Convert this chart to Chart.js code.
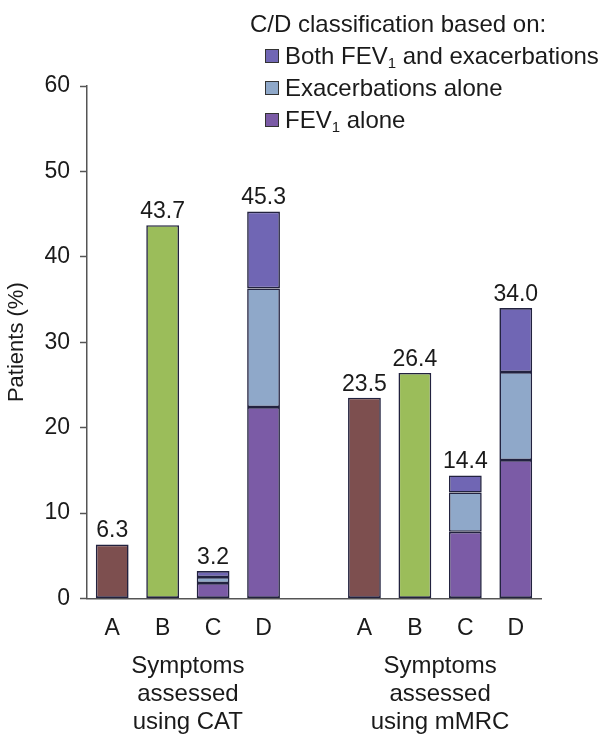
<!DOCTYPE html>
<html>

<head>
    <meta charset="UTF-8">
    <title>GOLD groups by CAT and mMRC</title>
    <script src="https://cdn.jsdelivr.net/npm/chart.js@4.4.1/dist/chart.umd.min.js"></script>
    <style>
        body {
            margin: 0;
            background: #fff;
            font-family: "Liberation Sans", Arial, sans-serif;
            color: #1a1a1a;
        }

        .wrap {
            position: relative;
            width: 603px;
            height: 735px;
        }

        #legend {
            position: absolute;
            left: 250px;
            top: 8px;
            font-size: 24px;
            line-height: 32px;
            white-space: nowrap;
        }

        #legend div {
            height: 32px;
        }

        #legend .item {
            margin-left: 15px;
        }

        #legend .box {
            display: inline-block;
            width: 12px;
            height: 12px;
            border: 1.5px solid #333;
            margin-right: 6px;
            vertical-align: 1px;
        }

        #legend sub {
            font-size: 15px;
            line-height: 0;
            vertical-align: -4px;
        }
    </style>
</head>

<body>
    <div class="wrap">
        <canvas id="chart" width="603" height="735"></canvas>
        <div id="legend"></div>
    </div>

    <script>
        // data
        const categories = ["A", "B", "C", "D", "", "A", "B", "C", "D"];
        const groupLabels = [["Symptoms", "assessed", "using CAT"], ["Symptoms", "assessed", "using mMRC"]];
        const groupCenters = [1.5, 6.5];

        const gradeA = [6.3, null, null, null, null, 23.5, null, null, null];
        const gradeB = [null, 43.7, null, null, null, null, 26.4, null, null];
        const fev1Alone = [null, null, 1.8, 22.4, null, null, null, 7.8, 16.2];
        const exacAlone = [null, null, 0.7, 13.9, null, null, null, 4.6, 10.3];
        const bothFevExac = [null, null, 0.7, 9.0, null, null, null, 2.0, 7.5];
        const totalLabels = ["6.3", "43.7", "3.2", "45.3", "", "23.5", "26.4", "14.4", "34.0"];

        const legendTitle = "C/D classification based on:";
        const legendItems = [
            { html: "Both FEV<sub>1</sub> and exacerbations", color: "#7066b4" },
            { html: "Exacerbations alone", color: "#8fa8c9" },
            { html: "FEV<sub>1</sub> alone", color: "#7b5ba6" }
        ];

        const edge = "#22223f";
        const FONT = "'Liberation Sans', Arial, sans-serif";

        function ds(label, data, color) {
            return {
                label: label,
                data: data,
                backgroundColor: color,
                borderColor: edge,
                borderWidth: 1.6,
                borderSkipped: false,
                stack: "s"
            };
        }

        // total value above every bar + group captions under the axis
        const barLabels = {
            id: "barLabels",
            afterDatasetsDraw(chart) {
                const ctx = chart.ctx;
                const x = chart.scales.x;
                const y = chart.scales.y;
                ctx.save();
                ctx.fillStyle = "#1a1a1a";
                ctx.font = "23px " + FONT;
                ctx.textAlign = "center";
                ctx.textBaseline = "bottom";
                for (let i = 0; i < categories.length; i++) {
                    if (!totalLabels[i]) continue;
                    let v = parseFloat(totalLabels[i]);
                    ctx.fillText(totalLabels[i], x.getPixelForValue(i), y.getPixelForValue(v) - 2);
                }
                ctx.font = "24px " + FONT;
                ctx.textBaseline = "middle";
                for (let g = 0; g < groupLabels.length; g++) {
                    let cx = (x.getPixelForValue(Math.floor(groupCenters[g])) + x.getPixelForValue(Math.ceil(groupCenters[g]))) / 2;
                    groupLabels[g].forEach(function (line, k) {
                        ctx.fillText(line, cx, 666 + k * 28);
                    });
                }
                ctx.restore();
            }
        };

        new Chart(document.getElementById("chart"), {
            type: "bar",
            data: {
                labels: categories,
                datasets: [
                    ds("A", gradeA, "#7d4f4f"),
                    ds("B", gradeB, "#9bbd5a"),
                    ds("FEV1 alone", fev1Alone, "#7b5ba6"),
                    ds("Exacerbations alone", exacAlone, "#8fa8c9"),
                    ds("Both FEV1 and exacerbations", bothFevExac, "#7066b4")
                ]
            },
            options: {
                responsive: false,
                animation: false,
                events: [],
                layout: { padding: { top: 86, right: 62, bottom: 77, left: 0 } },
                datasets: { bar: { barPercentage: 0.65, categoryPercentage: 1 } },
                plugins: {
                    legend: { display: false },
                    tooltip: { enabled: false }
                },
                scales: {
                    x: {
                        stacked: true,
                        grid: { display: false, drawTicks: false },
                        border: { color: "#555", width: 1.5 },
                        ticks: { color: "#1a1a1a", font: { size: 23, family: FONT }, padding: 16 }
                    },
                    y: {
                        stacked: true,
                        min: 0,
                        max: 60,
                        ticks: { stepSize: 10, color: "#1a1a1a", font: { size: 23, family: FONT }, padding: 10 },
                        grid: { drawOnChartArea: false, tickLength: 7, color: "#555", tickWidth: 1.5 },
                        border: { color: "#555", width: 1.5 },
                        title: {
                            display: true,
                            text: "Patients (%)",
                            color: "#1a1a1a",
                            font: { size: 22, family: FONT },
                            padding: 4
                        }
                    }
                }
            },
            plugins: [barLabels]
        });

        // legend
        let lg = document.getElementById("legend");
        let html = "<div>" + legendTitle + "</div>";
        legendItems.forEach(function (it) {
            html += '<div class="item"><span class="box" style="background:' + it.color + '"></span>' + it.html + "</div>";
        });
        lg.innerHTML = html;
    </script>
</body>

</html>
